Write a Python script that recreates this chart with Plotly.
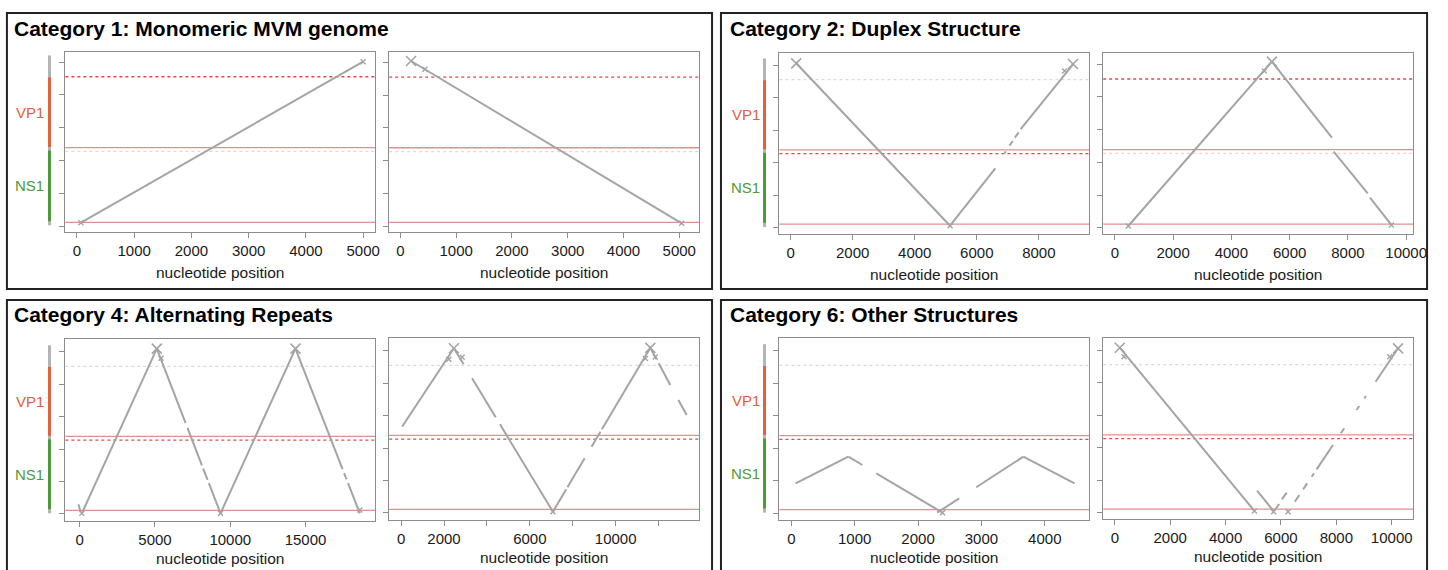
import plotly.graph_objects as go

W, H = 1448, 570

# ------------------------------------------------------------------
# DATA (genome / nucleotide coordinates)
# ------------------------------------------------------------------
panel_titles = ["Category 1: Monomeric MVM genome", "Category 2: Duplex Structure",
                "Category 4: Alternating Repeats", "Category 6: Other Structures"]
gene_labels = ["VP1", "NS1"]
genome_span = [20, 5200]
vp1_span = [2410, 4530]
ns1_span = [150, 2300]
ref_solid = [110, 2390]          # solid reference lines
ref_dotted = [2275, 4550]        # dotted reference lines
# which dotted line is highlighted (red) per subplot (index into ref_dotted)
dotted_red_idx = [1, 1, 0, 1, 0, 0, 0, 0]

yticks = [0, 1000, 2000, 3000, 4000, 5000]
xticks = [
    [0, 1000, 2000, 3000, 4000, 5000],
    [0, 1000, 2000, 3000, 4000, 5000],
    [0, 2000, 4000, 6000, 8000],
    [0, 2000, 4000, 6000, 8000, 10000],
    [0, 5000, 10000, 15000],
    [0, 2000, 4000, 6000, 8000, 10000, 12000],
    [0, 1000, 2000, 3000, 4000],
    [0, 2000, 4000, 6000, 8000, 10000],
]
xticktext = [
    ["0", "1000", "2000", "3000", "4000", "5000"],
    ["0", "1000", "2000", "3000", "4000", "5000"],
    ["0", "2000", "4000", "6000", "8000"],
    ["0", "2000", "4000", "6000", "8000", "10000"],
    ["0", "5000", "10000", "15000"],
    ["0", "2000", "", "6000", "", "10000", ""],
    ["0", "1000", "2000", "3000", "4000"],
    ["0", "2000", "4000", "6000", "8000", "10000"],
]

# Category 1 left
c1a_x = [70, 5000]
c1a_y = [100, 5010]
c1a_bx, c1a_by = [], []
c1a_sx, c1a_sy = [70, 5000], [100, 5010]
# Category 1 right
c1b_x = [190, 5044]
c1b_y = [5040, 82]
c1b_bx, c1b_by = [190], [5040]
c1b_sx, c1b_sy = [440, 5044], [4786, 82]
# Category 2 left
c2a_x = [182, 5137, None, 5137, 6596, None, 6895, 6935, None, 7052, 7160, None,
         7224, 7352, None, 7415, 9120]
c2a_y = [5052, 61, None, 61, 1825, None, 2290, 2345, None, 2520, 2664, None,
         2766, 2932, None, 3033, 5040]
c2a_bx, c2a_by = [182, 9100], [5052, 5030]
c2a_sx, c2a_sy = [5137, 8829], [61, 4815]
# Category 2 right
c2b_x = [462, 5391, None, 5391, 7450, None, 7512, 8678, None, 8756, 9493]
c2b_y = [52, 5080, None, 5080, 2754, None, 2326, 1053, None, 918, 83]
c2b_bx, c2b_by = [5391], [5080]
c2b_sx, c2b_sy = [462, 5132, 9493], [52, 4795, 83]
# Category 4 left
c4a_x = [-90, 60, None, 143, 5121, None, 5121, 7035, None, 7160, 8119, None, 8202, 8494, None,
         8578, 9353, None, 9353, 14331, None, 14331, 17461, None, 17562, 17722, None,
         17824, 18607]
c4a_y = [300, 60, None, 20, 5096, None, 5096, 2800, None, 2650, 1500, None, 1400, 1050, None,
         950, 20, None, 20, 5096, None, 5096, 1380, None, 1260, 1070, None,
         950, 20]
c4a_bx, c4a_by = [5121, 14331], [5096, 5096]
c4a_sx, c4a_sy = [143, 5400, 9353, 18607], [20, 4800, 20, 120]
# Category 4 right
c4b_x = [46, 2461, None, 2461, 2914, None, 3308, 4410, None, 4608, 7076, None,
         7076, 7696, None, 7752, 8555, None, 8877, 9292, None, 9359, 11615, None,
         11615, 11903, None, 12004, 12546, None, 12925, 13308]
c4b_y = [2660, 5077, None, 5077, 4583, None, 4152, 2950, None, 2734, 40, None,
         40, 730, None, 792, 1686, None, 2044, 2506, None, 2580, 5090, None,
         5090, 4738, None, 4615, 3946, None, 3483, 3021]
c4b_bx, c4b_by = [2461, 11615], [5077, 5090]
c4b_sx, c4b_sy = [2230, 2846, 7076, 11385, 11847], [4738, 4800, 40, 4760, 4810]
# Category 6 left
c6a_x = [68, 900, None, 900, 1121, None, 1341, 2386, None, 2302, 2650, None,
         2918, 3661, None, 3661, 4469]
c6a_y = [922, 1741, None, 1741, 1485, None, 1230, 20, None, 20, 461, None,
         800, 1741, None, 1741, 922]
c6a_bx, c6a_by = [], []
c6a_sx, c6a_sy = [2386], [20]
# Category 6 right
c6b_x = [179, 5043, None, 5136, 5733, None, 5781, 5936, None, 6031, 6209, None,
         6501, 6663, None, 6801, 6947, None, 7108, 7190, None, 7287, 7879, None,
         8163, 8285, None, 8730, 8827, None, 9014, 9070, None, 9418, 10229]
c6b_y = [5071, 52, None, 676, 52, None, 82, 266, None, 410, 615, None,
         338, 543, None, 718, 902, None, 1106, 1209, None, 1332, 2081, None,
         2440, 2594, None, 3156, 3279, None, 3515, 3586, None, 4026, 5052]
c6b_bx, c6b_by = [179, 10229], [5071, 5052]
c6b_sx, c6b_sy = [333, 5043, 5733, 6258, 9929], [4794, 52, 31, 31, 4794]

# ------------------------------------------------------------------
# LAYOUT / STYLE
# ------------------------------------------------------------------
GREY = "#A4A4A4"
FRAME = "#8C8C8C"
SOLID_RED = "#E28E8E"
DOT_RED = "#E04848"
DOT_LIGHT = "#F1D2D2"
VP1_COL = "#E2603C"
NS1_COL = "#4E9A38"
FONT = "Liberation Sans, Arial, Helvetica, sans-serif"

# subplot pixel boxes (left, right, top, bottom)
boxes = [
    (66, 379, 52, 232), (393, 706, 52, 232),
    (787, 1100, 53, 234), (1114, 1427, 53, 234),
    (66, 379, 339, 521), (393, 706, 338, 520),
    (787, 1100, 338, 520), (1114, 1427, 338, 519),
]
xranges = [(-202, 5213), (-201, 5357), (-361, 9627), (-398, 10241),
           (-954, 19638), (-554, 13892), (-188, 4703), (-418, 10776)]
yranges = [(-183, 5305), (-183, 5315), (-194, 5369), (-193, 5346),
           (-216, 5391), (-216, 5394), (-206, 5390), (-194, 5369)]

series = [
    (c1a_x, c1a_y, c1a_bx, c1a_by, c1a_sx, c1a_sy),
    (c1b_x, c1b_y, c1b_bx, c1b_by, c1b_sx, c1b_sy),
    (c2a_x, c2a_y, c2a_bx, c2a_by, c2a_sx, c2a_sy),
    (c2b_x, c2b_y, c2b_bx, c2b_by, c2b_sx, c2b_sy),
    (c4a_x, c4a_y, c4a_bx, c4a_by, c4a_sx, c4a_sy),
    (c4b_x, c4b_y, c4b_bx, c4b_by, c4b_sx, c4b_sy),
    (c6a_x, c6a_y, c6a_bx, c6a_by, c6a_sx, c6a_sy),
    (c6b_x, c6b_y, c6b_bx, c6b_by, c6b_sx, c6b_sy),
]

fig = go.Figure()
layout = dict(width=W, height=H, margin=dict(l=0, r=0, t=0, b=0),
              paper_bgcolor="white", plot_bgcolor="white", showlegend=False,
              font=dict(family=FONT, color="#111"))
shapes = []
annotations = []

def px2x(p):
    return p / W

def py2y(p):
    return 1 - p / H

for i, (box, xr, yr, s) in enumerate(zip(boxes, xranges, yranges, series)):
    n = i + 1
    xa = "x" if n == 1 else f"x{n}"
    ya = "y" if n == 1 else f"y{n}"
    L, R, T, B = box
    layout[f"xaxis{n if n > 1 else ''}"] = dict(
        domain=[px2x(L), px2x(R)], range=list(xr), anchor=ya,
        showline=True, mirror=True, linecolor=FRAME, linewidth=1,
        showgrid=False, zeroline=False, ticks="outside", ticklen=5,
        tickcolor=FRAME, tickwidth=1, tickvals=xticks[i], ticktext=xticktext[i],
        tickfont=dict(family=FONT, size=15, color="#1a1a1a"), fixedrange=True)
    layout[f"yaxis{n if n > 1 else ''}"] = dict(
        domain=[py2y(B), py2y(T)], range=list(yr), anchor=xa,
        showline=True, mirror=True, linecolor=FRAME, linewidth=1,
        showgrid=False, zeroline=False, ticks="outside", ticklen=5,
        tickcolor=FRAME, tickwidth=1, tickvals=yticks, showticklabels=False,
        fixedrange=True)
    xd = "x domain" if n == 1 else f"x{n} domain"
    # reference lines
    light_idx = 1 - dotted_red_idx[i]
    shapes.append(dict(type="line", xref=xd, yref=ya, x0=0, x1=1,
                       y0=ref_dotted[light_idx], y1=ref_dotted[light_idx],
                       line=dict(color=DOT_LIGHT, width=1.2, dash="dot"), layer="below"))
    shapes.append(dict(type="line", xref=xd, yref=ya, x0=0, x1=1,
                       y0=ref_dotted[dotted_red_idx[i]], y1=ref_dotted[dotted_red_idx[i]],
                       line=dict(color=DOT_RED, width=1.3, dash="dot"), layer="below"))
    for v in ref_solid:
        shapes.append(dict(type="line", xref=xd, yref=ya, x0=0, x1=1, y0=v, y1=v,
                           line=dict(color=SOLID_RED, width=1.3), layer="below"))
    lx, ly, bx, by, sx, sy = s
    fig.add_trace(go.Scatter(x=lx, y=ly, mode="lines", xaxis=xa, yaxis=ya,
                             line=dict(color=GREY, width=2), hoverinfo="skip"))
    if bx:
        fig.add_trace(go.Scatter(x=bx, y=by, mode="markers", xaxis=xa, yaxis=ya,
                                 marker=dict(symbol="x-thin", size=10, color=GREY,
                                             line=dict(color=GREY, width=1.6)),
                                 hoverinfo="skip"))
    if sx:
        fig.add_trace(go.Scatter(x=sx, y=sy, mode="markers", xaxis=xa, yaxis=ya,
                                 marker=dict(symbol="x-thin", size=5, color=GREY,
                                             line=dict(color=GREY, width=1.4)),
                                 hoverinfo="skip"))
    # axis title
    annotations.append(dict(text="nucleotide position", xref="paper", yref="paper",
                            x=px2x((L + R) / 2), y=py2y(B + (41 if i < 4 else 37)),
                            xanchor="center", yanchor="middle", showarrow=False,
                            font=dict(family=FONT, size=15.5, color="#1a1a1a")))

# panel frames, titles, gene bars
frames = [(7, 719, 13, 289), (728, 1441, 13, 289), (7, 719, 300, 576), (728, 1441, 300, 576)]
title_pos = [(12, 28), (735, 28), (12, 314), (735, 314)]
bar_x = [50, 772, 50, 772]
label_x = [30, 753, 30, 753]
left_axis = ["y", "y3", "y5", "y7"]
for k in range(4):
    x0, x1, y0, y1 = frames[k]
    shapes.append(dict(type="rect", xref="paper", yref="paper",
                       x0=px2x(x0), x1=px2x(x1), y0=py2y(y1), y1=py2y(y0),
                       line=dict(color="#222", width=2), layer="above"))
    tx, ty = title_pos[k]
    annotations.append(dict(text="<b>" + panel_titles[k] + "</b>", xref="paper", yref="paper",
                            x=px2x(tx), y=py2y(ty), xanchor="left", yanchor="middle",
                            showarrow=False, font=dict(family=FONT, size=21, color="#000")))
    ya = left_axis[k]
    bx = px2x(bar_x[k])
    shapes.append(dict(type="line", xref="paper", yref=ya, x0=bx, x1=bx,
                       y0=genome_span[0], y1=genome_span[1], line=dict(color="#B4B4B4", width=3)))
    shapes.append(dict(type="line", xref="paper", yref=ya, x0=bx, x1=bx,
                       y0=vp1_span[0], y1=vp1_span[1], line=dict(color=VP1_COL, width=3)))
    shapes.append(dict(type="line", xref="paper", yref=ya, x0=bx, x1=bx,
                       y0=ns1_span[0], y1=ns1_span[1], line=dict(color=NS1_COL, width=3)))
    annotations.append(dict(text=gene_labels[0], xref="paper", yref=ya,
                            x=px2x(label_x[k]), y=(vp1_span[0] + vp1_span[1]) / 2,
                            xanchor="center", yanchor="middle", showarrow=False,
                            font=dict(family=FONT, size=15, color=VP1_COL)))
    annotations.append(dict(text=gene_labels[1], xref="paper", yref=ya,
                            x=px2x(label_x[k]), y=(ns1_span[0] + ns1_span[1]) / 2,
                            xanchor="center", yanchor="middle", showarrow=False,
                            font=dict(family=FONT, size=15, color=NS1_COL)))

layout["shapes"] = shapes
layout["annotations"] = annotations
fig.update_layout(**layout)
# remove the browser's default 8px body margin so the figure sits at (0, 0)
fig.write_html("out.html", config={"displayModeBar": False},
               post_script="document.body.style.margin='0px';")
